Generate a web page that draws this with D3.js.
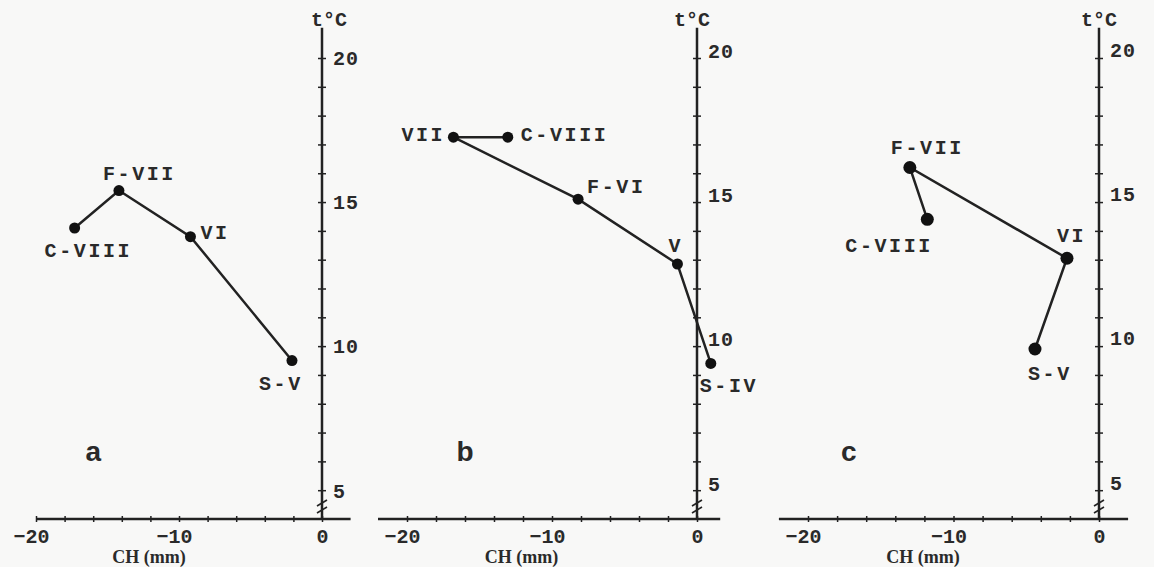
<!DOCTYPE html>
<html>
<head>
<meta charset="utf-8">
<script src="https://cdn.jsdelivr.net/npm/d3@7"></script>
<style>
body { margin: 0; background: #f8f8f7; }
svg text { font-family: "Liberation Mono", "Courier New", monospace; fill: #2a2a2a; }
</style>
</head>
<body>
<svg id="chart" width="1154" height="567"></svg>
<script>
// panel a
var stagesA = ["C-VIII", "F-VII", "VI", "S-V"]
var chA = [-17.3, -14.2, -9.2, -2.1]
var tempA = [14.1, 15.4, 13.8, 9.5]

// panel b
var stagesB = ["C-VIII", "VII", "F-VI", "V", "S-IV"]
var chB = [-13.05, -16.8, -8.2, -1.35, 0.95]
var tempB = [17.25, 17.25, 15.1, 12.85, 9.4]

// panel c
var stagesC = ["C-VIII", "F-VII", "VI", "S-V"]
var chC = [-11.8, -13.0, -2.2, -4.4]
var tempC = [14.4, 16.2, 13.05, 9.9]

var xTickLabels = [-20, -10, 0]
var yTickLabels = [5, 10, 15, 20]
var panelNames = ["a", "b", "c"]

// layout per panel (pixels / offsets only)
var panels = [
	{ name: "a", stages: stagesA, ch: chA, temp: tempA, left: 36, zero: 322, xStart: -20, xEnd: 2, r: 5.5,
	  tickDy: 0, unitDx: 7, letterX: -16,
	  off: { "C-VIII": [-30, 22], "F-VII": [-16, -18], "VI": [10, -5], "S-V": [-33, 22] } },
	{ name: "b", stages: stagesB, ch: chB, temp: tempB, left: 407, zero: 697, xStart: -22, xEnd: 1.6, r: 5.5,
	  tickDy: -7, unitDx: -5, letterX: -16,
	  off: { "C-VIII": [13, -3], "VII": [-52, -3], "F-VI": [9, -13], "V": [-9, -19], "S-IV": [-11, 22] } },
	{ name: "c", stages: stagesC, ch: chC, temp: tempC, left: 808, zero: 1099, xStart: -22, xEnd: 2, r: 6.5,
	  tickDy: -8, unitDx: 0, letterX: -17.2,
	  off: { "C-VIII": [-82, 26], "F-VII": [-19, -20], "VI": [-10, -23], "S-V": [-7, 24] } }
]

var ink = "#222"
var svg = d3.select("#chart")

var y = d3.scaleLinear().domain([4, 20]).range([519, 58])

panels.forEach(function(p) {
	var x = d3.scaleLinear().domain([-20, 0]).range([p.left, p.zero])
	var g = svg.append("g").attr("class", "panel-" + p.name)

	// x axis
	var xAxis = d3.axisBottom(x)
		.tickValues(d3.range(-20, 1, 2))
		.tickSize(3)
		.tickFormat(function(d) { return xTickLabels.indexOf(d) >= 0 ? (d < 0 ? "\u2212" + Math.abs(d) : d) : "" })
	var gx = g.append("g").attr("transform", "translate(0," + y(4) + ")").call(xAxis)
	gx.select(".domain").remove()
	gx.selectAll(".tick line").attr("y1", -3).attr("stroke", ink).attr("stroke-width", 1.5)
	gx.selectAll(".tick text")
		.attr("y", 10)
		.attr("font-size", 20)
		.attr("font-weight", "bold")
		.attr("font-family", "Liberation Mono, monospace")
		.attr("fill", "#2a2a2a")
		.attr("text-anchor", function(d) { return d < 0 ? "end" : "middle" })
		.attr("x", function(d) { return d < 0 ? 13 : 0 })
	g.append("line")
		.attr("x1", x(p.xStart)).attr("x2", x(p.xEnd))
		.attr("y1", y(4)).attr("y2", y(4))
		.attr("stroke", ink).attr("stroke-width", 2.5)

	// y axis
	var yAxis = d3.axisRight(y)
		.tickValues(d3.range(5, 21, 1))
		.tickSize(4)
		.tickFormat(function(d) { return yTickLabels.indexOf(d) >= 0 ? d : "" })
	var gy = g.append("g").attr("transform", "translate(" + x(0) + ",0)").call(yAxis)
	gy.select(".domain").remove()
	gy.selectAll(".tick line").attr("x1", -4).attr("stroke", ink).attr("stroke-width", 1.5)
	gy.selectAll(".tick text")
		.attr("x", 11)
		.attr("dy", "0.34em")
		.attr("y", p.tickDy)
		.attr("font-size", 20)
		.attr("font-weight", "bold")
		.attr("letter-spacing", 1)
		.attr("font-family", "Liberation Mono, monospace")
		.attr("fill", "#2a2a2a")
	g.append("line")
		.attr("x1", x(0)).attr("x2", x(0))
		.attr("y1", y(4)).attr("y2", y(21.05))
		.attr("stroke", ink).attr("stroke-width", 2.5)

	// axis break marks
	;[-16, -9].forEach(function(o) {
		g.append("line")
			.attr("x1", x(0) - 5).attr("x2", x(0) + 5)
			.attr("y1", y(4) + o + 3).attr("y2", y(4) + o - 3)
			.attr("stroke", ink).attr("stroke-width", 1.6)
	})

	// axis titles
	g.append("text")
		.attr("x", x(0) + p.unitDx).attr("y", 26)
		.attr("text-anchor", "middle")
		.attr("font-size", 20)
		.attr("font-weight", "bold")
		.text("t°C")
	g.append("text")
		.attr("x", x(-12.1)).attr("y", 563)
		.attr("text-anchor", "middle")
		.attr("font-size", 18)
		.attr("font-weight", "bold")
		.style("font-family", "Liberation Serif, serif")
		.text("CH (mm)")

	// panel letter
	g.append("text")
		.attr("x", x(p.letterX)).attr("y", y(6))
		.attr("text-anchor", "middle")
		.attr("font-size", 28)
		.attr("font-weight", "bold")
		.style("font-family", "Liberation Sans, Arial, sans-serif")
		.text(p.name)

	// series line
	var idx = d3.range(p.stages.length)
	var line = d3.line()
		.x(function(i) { return x(p.ch[i]) })
		.y(function(i) { return y(p.temp[i]) })
	g.append("path")
		.datum(idx)
		.attr("d", line)
		.attr("fill", "none")
		.attr("stroke", ink)
		.attr("stroke-width", 2.5)

	g.selectAll("circle.pt")
		.data(idx)
		.enter().append("circle")
		.attr("class", "pt")
		.attr("cx", function(i) { return x(p.ch[i]) })
		.attr("cy", function(i) { return y(p.temp[i]) })
		.attr("r", p.r)
		.attr("fill", "#111")

	g.selectAll("text.stage")
		.data(idx)
		.enter().append("text")
		.attr("class", "stage")
		.attr("x", function(i) { return x(p.ch[i]) + p.off[p.stages[i]][0] })
		.attr("y", function(i) { return y(p.temp[i]) + p.off[p.stages[i]][1] })
		.attr("dy", "0.35em")
		.attr("font-size", 20)
		.attr("font-weight", "bold")
		.attr("letter-spacing", 2.6)
		.text(function(i) { return p.stages[i] })
})
</script>
</body>
</html>
